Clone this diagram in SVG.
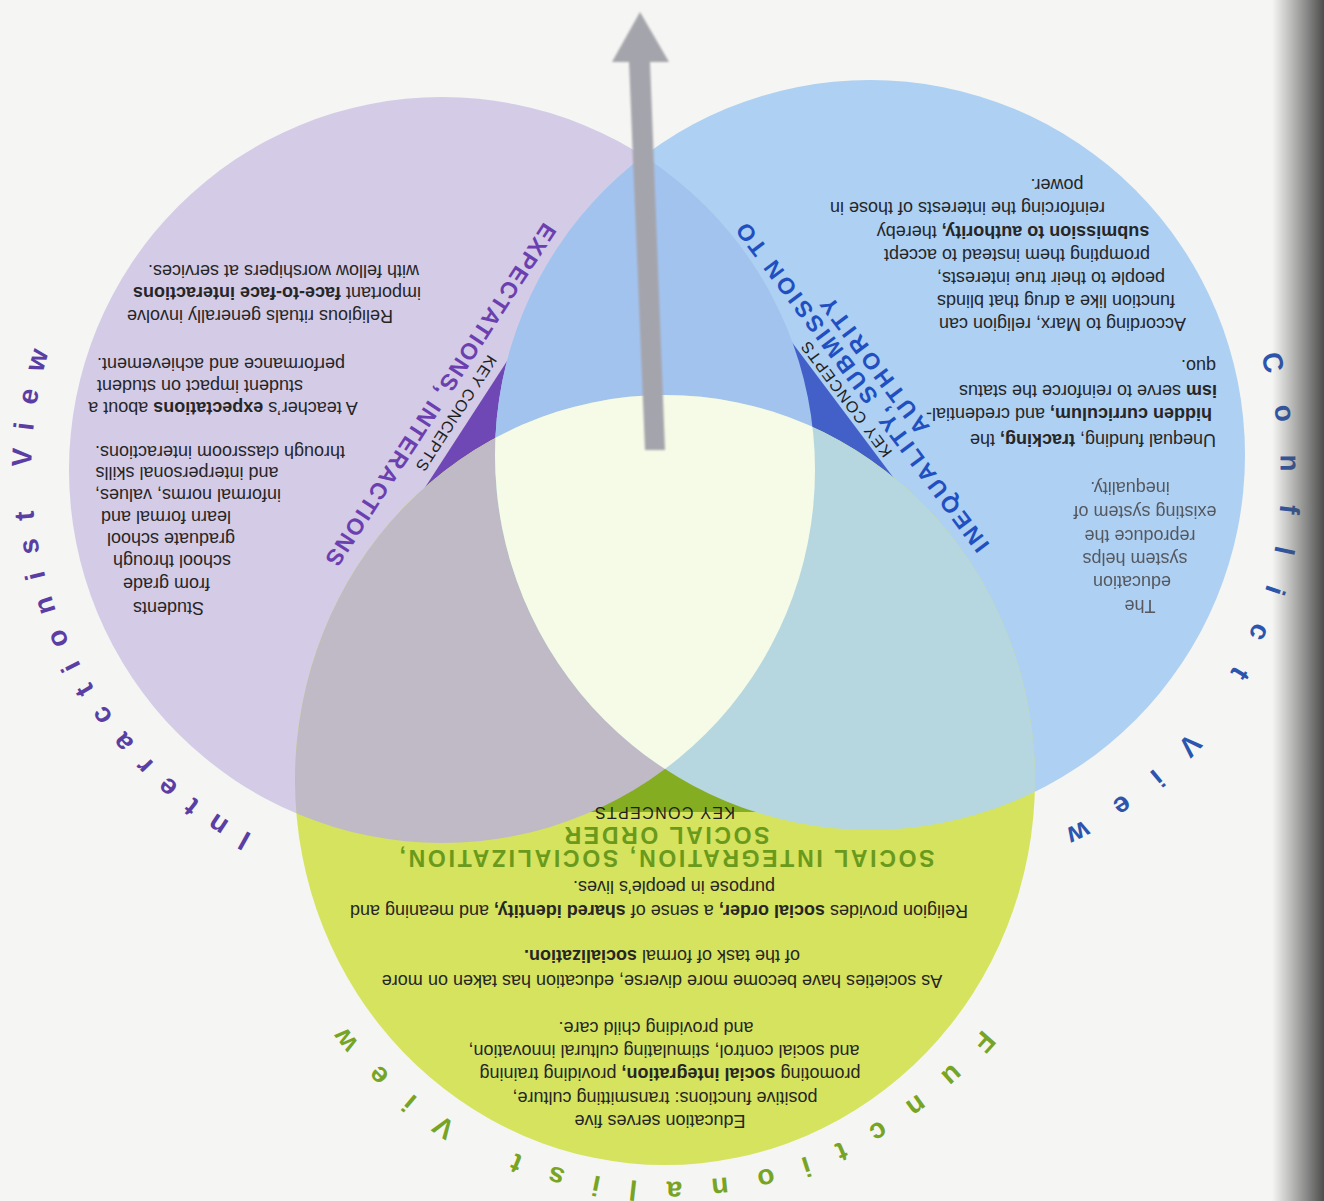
<svg xmlns="http://www.w3.org/2000/svg" width="1324" height="1201" viewBox="0 0 1324 1201">
<defs>
<style>
.b{font-family:"Liberation Sans",Arial,sans-serif;font-size:18px;fill:#262626;text-anchor:middle}
.bb{font-weight:bold}
.fz{fill:#55585e}
.h{font-family:"Liberation Sans",Arial,sans-serif;font-weight:bold;font-size:23px;text-anchor:middle}
.kc{font-family:"Liberation Sans",Arial,sans-serif;font-size:16px;fill:#1e1e1e;text-anchor:middle}
.arc{font-family:"Liberation Sans",Arial,sans-serif;font-weight:bold;font-size:28px}
.ph{fill:#6b3fb0}.bh{fill:#1f4fc0}.gh{fill:#6a9a1c}
</style>
<clipPath id="cP"><circle cx="442" cy="470" r="373"/></clipPath>
<clipPath id="cB"><circle cx="870" cy="455" r="375"/></clipPath>
<clipPath id="cG"><ellipse cx="665" cy="780" rx="370" ry="385"/></clipPath>
<linearGradient id="shade" x1="0" y1="0" x2="1" y2="0">
<stop offset="0" stop-color="#555" stop-opacity="0"/>
<stop offset="1" stop-color="#444" stop-opacity="0.95"/>
</linearGradient>
<filter id="soft" x="-20%" y="-5%" width="140%" height="110%"><feGaussianBlur stdDeviation="1.3"/></filter>
<filter id="fuzz" x="-5%" y="-20%" width="110%" height="140%"><feGaussianBlur stdDeviation="0.7"/></filter>
<path id="pI" d="M252.4,834.2 A410.6,410.6 0 0 1 236.7,114.4"/>
<path id="pF" d="M982.4,1028.5 A405.6,405.6 0 0 1 265.6,846.4"/>
<path id="pC" d="M1260.2,355.4 A390.6,390.6 0 0 1 822.2,864.7"/>
</defs>
<rect width="1324" height="1201" fill="#f5f5f3"/>

<g id="interactionist">
<circle cx="442" cy="470" r="373" fill="#d4cbe7"/>
<polygon points="534.6,318.5 409.4,511.5 535.2,593.2 660.4,400.2" fill="#7048b5" clip-path="url(#cP)"/>
</g>
<g id="conflict">
<circle cx="870" cy="455" r="375" fill="#add0f3"/>
<polygon points="767,309 911,501 791,591 647,399" fill="#4260c8" clip-path="url(#cB)"/>
</g>
<g id="functionalist">
<ellipse cx="665" cy="780" rx="370" ry="385" fill="#d5e35e"/>
<rect x="540" y="700" width="260" height="112" fill="#84ad21" clip-path="url(#cG)"/>
</g>
<g id="overlaps">
<circle cx="870" cy="455" r="375" fill="#a3c3ef" clip-path="url(#cP)"/>
<ellipse cx="665" cy="780" rx="370" ry="385" fill="#bfbac6" clip-path="url(#cP)"/>
<ellipse cx="665" cy="780" rx="370" ry="385" fill="#b6d7df" clip-path="url(#cB)"/>
<g clip-path="url(#cP)"><ellipse cx="665" cy="780" rx="370" ry="385" fill="#f5fbe7" clip-path="url(#cB)"/></g>
</g>

<g id="connectors">
<polygon points="645,450 665,450 650,62 669,62 640,12 612,62 629,62" fill="#a4a4ac" filter="url(#soft)"/>
</g>

<g id="interactionist-text">
<text class="b" x="283.5" y="275" transform="rotate(180 283.5 270)">with fellow worshipers at services.</text>
<text class="b" x="277" y="297" transform="rotate(180 277 292)">important <tspan class="bb">face-to-face interactions</tspan></text>
<text class="b" x="260" y="320" transform="rotate(180 260 315)">Religious rituals generally involve</text>
<text class="b" x="221" y="368" transform="rotate(180 221 363)">performance and achievement.</text>
<text class="b" x="200" y="390" transform="rotate(180 200 385)">student impact on student</text>
<text class="b" x="223" y="412" transform="rotate(180 223 407)">A teacher’s <tspan class="bb">expectations</tspan> about a</text>
<text class="b" x="220" y="456" transform="rotate(180 220 451)">through classroom interactions.</text>
<text class="b" x="187" y="477" transform="rotate(180 187 472)">and interpersonal skills</text>
<text class="b" x="188" y="499" transform="rotate(180 188 494)">informal norms, values,</text>
<text class="b" x="166" y="521" transform="rotate(180 166 516)">learn formal and</text>
<text class="b" x="171" y="543" transform="rotate(180 171 538)">graduate school</text>
<text class="b" x="172" y="565" transform="rotate(180 172 560)">school through</text>
<text class="b" x="166.5" y="588" transform="rotate(180 166.5 583)">from grade</text>
<text class="b" x="168.5" y="612" transform="rotate(180 168.5 607)">Students</text>
<g transform="translate(472 415) rotate(123)">
<text class="kc" x="7" y="19.6" textLength="134" lengthAdjust="spacing">KEY CONCEPTS</text>
<text class="h ph" x="0" y="45" textLength="403" lengthAdjust="spacing">EXPECTATIONS, INTERACTIONS</text>
</g>
<text class="arc" fill="#5a3ea3" letter-spacing="17.8"><textPath href="#pI">Interactionist View</textPath></text>
</g>

<g id="conflict-text">
<text class="b" x="1057" y="189" transform="rotate(180 1057 184)">power.</text>
<text class="b" x="967.5" y="212" transform="rotate(180 967.5 207)">reinforcing the interests of those in</text>
<text class="b" x="1013" y="236" transform="rotate(180 1013 231)"><tspan class="bb">submission to authority,</tspan> thereby</text>
<text class="b" x="1017" y="259" transform="rotate(180 1017 254)">prompting them instead to accept</text>
<text class="b" x="1051" y="282" transform="rotate(180 1051 277)">people to their true interests,</text>
<text class="b" x="1056" y="305" transform="rotate(180 1056 300)">function like a drug that blinds</text>
<text class="b" x="1062.5" y="328" transform="rotate(180 1062.5 323)">According to Marx, religion can</text>
<text class="b" x="1198.5" y="370" transform="rotate(180 1198.5 365)">quo.</text>
<text class="b" x="1088" y="395" transform="rotate(180 1088 390)"><tspan class="bb">ism</tspan> serve to reinforce the status</text>
<text class="b" x="1069" y="418" transform="rotate(180 1069 413)"><tspan class="bb">hidden curriculum,</tspan> and credential-</text>
<text class="b" x="1093" y="444" transform="rotate(180 1093 439)">Unequal funding, <tspan class="bb">tracking,</tspan> the</text>
<g filter="url(#fuzz)">
<text class="b fz" x="1130" y="492" transform="rotate(180 1130 487)">inequality.</text>
<text class="b fz" x="1145" y="516" transform="rotate(180 1145 511)">existing system of</text>
<text class="b fz" x="1140" y="540" transform="rotate(180 1140 535)">reproduce the</text>
<text class="b fz" x="1135" y="563" transform="rotate(180 1135 558)">system helps</text>
<text class="b fz" x="1132" y="586" transform="rotate(180 1132 581)">education</text>
<text class="b fz" x="1140" y="610" transform="rotate(180 1140 605)">The</text>
</g>
<g transform="translate(839 405) rotate(233.13)">
<text class="kc" x="0" y="14.8" textLength="140" lengthAdjust="spacing">KEY CONCEPTS</text>
<text class="h bh" x="0" y="37.2" textLength="405" lengthAdjust="spacing">INEQUALITY, SUBMISSION TO</text>
<text class="h bh" x="10" y="60" textLength="165" lengthAdjust="spacing">AUTHORITY</text>
</g>
<text class="arc" fill="#2c55ad" letter-spacing="32"><textPath href="#pC">Conflict View</textPath></text>
</g>

<g id="functionalist-text">
<text class="kc" x="665" y="818.8" transform="rotate(180 665 813)" textLength="140" lengthAdjust="spacing">KEY CONCEPTS</text>
<text class="h gh" x="667" y="843.3" transform="rotate(180 667 835)" textLength="205" lengthAdjust="spacing">SOCIAL ORDER</text>
<text class="h gh" x="667" y="866.3" transform="rotate(180 667 858)" textLength="535" lengthAdjust="spacing">SOCIAL INTEGRATION, SOCIALIZATION,</text>
<text class="b" x="674" y="891" transform="rotate(180 674 886)">purpose in people’s lives.</text>
<text class="b" x="659" y="915" transform="rotate(180 659 910)">Religion provides <tspan class="bb">social order,</tspan> a sense of <tspan class="bb">shared identity,</tspan> and meaning and</text>
<text class="b" x="662" y="960" transform="rotate(180 662 955)">of the task of formal <tspan class="bb">socialization.</tspan></text>
<text class="b" x="662" y="985" transform="rotate(180 662 980)">As societies have become more diverse, education has taken on more</text>
<text class="b" x="656" y="1032" transform="rotate(180 656 1027)">and providing child care.</text>
<text class="b" x="664" y="1055" transform="rotate(180 664 1050)">and social control, stimulating cultural innovation,</text>
<text class="b" x="670" y="1078" transform="rotate(180 670 1073)">promoting <tspan class="bb">social integration,</tspan> providing training</text>
<text class="b" x="665" y="1102" transform="rotate(180 665 1097)">positive functions: transmitting culture,</text>
<text class="b" x="660" y="1125" transform="rotate(180 660 1120)">Education serves five</text>
<text class="arc" fill="#77a423" letter-spacing="28.6"><textPath href="#pF">Functionalist View</textPath></text>
</g>

<rect x="1272" y="0" width="52" height="1201" fill="url(#shade)"/>
</svg>
